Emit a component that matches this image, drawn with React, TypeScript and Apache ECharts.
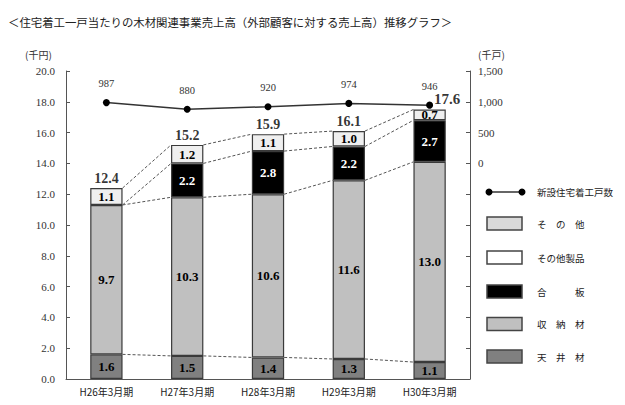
import { useEffect, useRef } from "react";
import * as echarts from "echarts";

const categories = ["H26年3月期", "H27年3月期", "H28年3月期", "H29年3月期", "H30年3月期"];
const tenjozai = [1.6, 1.5, 1.4, 1.3, 1.1];
const shunozai = [9.7, 10.3, 10.6, 11.6, 13.0];
const gohan: (number | null)[] = [null, 2.2, 2.8, 2.2, 2.7];
const sonota = [1.1, 1.2, 1.1, 1.0, 0.7];
const totals = [12.4, 15.2, 15.9, 16.1, 17.6];
const housingStarts = [987, 880, 920, 974, 946];

const TITLE = "＜住宅着工一戸当たりの木材関連事業売上高（外部顧客に対する売上高）推移グラフ＞";
const JP_FONT = '"Noto Sans CJK JP", "Noto Sans", sans-serif';
const NUM_FONT = '"Liberation Serif", serif';

const COLOR_TENJO = "#808080";
const COLOR_SHUNO = "#c0c0c0";
const COLOR_GOHAN = "#000000";
const COLOR_SONOTA = "#efefef";
const BORDER = "#3a3a3a";

function fmt(p: any) {
  const v = Array.isArray(p.value) ? p.value[1] : p.value;
  return v == null ? "" : Number(v).toFixed(1);
}

// cumulative tops of each stacked layer, used for the dashed connectors
function cumulative() {
  const l1 = tenjozai.map((v) => v);
  const l2 = l1.map((v, i) => v + shunozai[i]);
  const l3 = l2.map((v, i) => v + (gohan[i] ?? 0));
  const l4 = l3.map((v, i) => v + sonota[i]);
  return [l1, l2, l3, l4];
}

function buildConnectors() {
  const rows: number[][] = [];
  cumulative().forEach((level) => {
    for (let i = 0; i < level.length - 1; i++) {
      rows.push([i, level[i], level[i + 1]]);
    }
  });
  return rows;
}

function barSeries(name: string, data: (number | null)[], color: string, labelColor: string) {
  return {
    name,
    type: "bar",
    stack: "sales",
    barWidth: "40%",
    data,
    itemStyle: { color, borderColor: BORDER, borderWidth: 1.2 },
    label: {
      show: true,
      position: "inside",
      formatter: fmt,
      color: labelColor,
      fontFamily: NUM_FONT,
      fontWeight: "bold",
      fontSize: 13,
    },
    z: 3,
  };
}

const legendRows = [
  { text: "その他", label: "そ　の　他", fill: "#d9d9d9", y: 223.5 },
  { text: "その他製品", label: "その他製品", fill: "#ffffff", y: 257.5 },
  { text: "合板", label: "合　　　板", fill: "#000000", y: 291.5 },
  { text: "収納材", label: "収　納　材", fill: COLOR_SHUNO, y: 324 },
  { text: "天井材", label: "天　井　材", fill: COLOR_TENJO, y: 356.5 },
];

function buildGraphic() {
  const items: any[] = [
    {
      type: "text",
      x: 8,
      y: 22,
      style: { text: TITLE, font: `11.4px ${JP_FONT}`, fill: "#222", verticalAlign: "middle" },
    },
    {
      type: "text",
      x: 25,
      y: 54,
      style: { text: "(千円)", font: `10px ${JP_FONT}`, fill: "#333", verticalAlign: "middle" },
    },
    {
      type: "text",
      x: 478,
      y: 54,
      style: { text: "(千戸)", font: `10px ${JP_FONT}`, fill: "#333", verticalAlign: "middle" },
    },
    {
      type: "line",
      shape: { x1: 489, y1: 192, x2: 522, y2: 192 },
      style: { stroke: "#333", lineWidth: 1.5 },
    },
    { type: "circle", shape: { cx: 489, cy: 192, r: 3.5 }, style: { fill: "#000" } },
    { type: "circle", shape: { cx: 522, cy: 192, r: 3.5 }, style: { fill: "#000" } },
    {
      type: "text",
      x: 537,
      y: 192,
      style: { text: "新設住宅着工戸数", font: `9.5px ${JP_FONT}`, fill: "#222", verticalAlign: "middle" },
    },
  ];
  legendRows.forEach((row) => {
    items.push({
      type: "rect",
      shape: { x: 487, y: row.y - 6.5, width: 35, height: 13 },
      style: { fill: row.fill, stroke: "#444", lineWidth: 1.5 },
    });
    items.push({
      type: "text",
      x: 537,
      y: row.y,
      style: { text: row.label, font: `9.5px ${JP_FONT}`, fill: "#222", verticalAlign: "middle" },
    });
  });
  return items;
}

export default function App() {
  const ref = useRef<HTMLDivElement>(null);

  useEffect(() => {
    if (!ref.current) {
      return;
    }
    const chart = echarts.init(ref.current, null, { renderer: "svg" });

    const option: any = {
      animation: false,
      backgroundColor: "#ffffff",
      grid: { left: 66, right: 155, top: 71, bottom: 26, containLabel: false },
      xAxis: {
        type: "category",
        data: categories,
        axisLine: { lineStyle: { color: "#555", width: 1 } },
        axisTick: { show: false },
        axisLabel: { color: "#222", fontFamily: JP_FONT, fontSize: 10, margin: 7 },
      },
      yAxis: [
        {
          type: "value",
          min: 0,
          max: 20,
          interval: 2,
          axisLine: { show: true, lineStyle: { color: "#555", width: 1 } },
          axisTick: { show: true, inside: true, length: 4, lineStyle: { color: "#555" } },
          axisLabel: {
            color: "#333",
            fontFamily: NUM_FONT,
            fontSize: 11,
            margin: 11,
            formatter: (v: number) => v.toFixed(1),
          },
          splitLine: { show: false },
        },
        {
          type: "value",
          min: -3500,
          max: 1500,
          interval: 500,
          position: "right",
          axisLine: { show: true, lineStyle: { color: "#555", width: 1 } },
          axisTick: { show: true, inside: true, length: 4, lineStyle: { color: "#555" } },
          axisLabel: {
            color: "#333",
            fontFamily: NUM_FONT,
            fontSize: 11,
            margin: 8,
            formatter: (v: number) => (v < 0 ? "" : v.toLocaleString("en-US")),
          },
          splitLine: { show: false },
        },
      ],
      series: [
        {
          name: "connectors",
          type: "custom",
          silent: true,
          data: buildConnectors(),
          z: 1,
          renderItem: (_params: any, api: any) => {
            const i = api.value(0);
            const a = api.coord([i, api.value(1)]);
            const b = api.coord([i + 1, api.value(2)]);
            const half = api.size([1, 0])[0] * 0.2;
            return {
              type: "line",
              shape: { x1: a[0] + half, y1: a[1], x2: b[0] - half, y2: b[1] },
              style: { stroke: "#555", lineWidth: 1, lineDash: [3, 2] },
            };
          },
        },
        barSeries("天井材", tenjozai, COLOR_TENJO, "#000"),
        barSeries("収納材", shunozai, COLOR_SHUNO, "#000"),
        barSeries("合板", gohan, COLOR_GOHAN, "#fff"),
        barSeries("その他", sonota, COLOR_SONOTA, "#000"),
        {
          name: "合計",
          type: "scatter",
          silent: true,
          symbolSize: 1,
          itemStyle: { color: "transparent" },
          data: totals.map((v, i) =>
            i === totals.length - 1
              ? { value: v, label: { position: "right", offset: [2, -9], fontSize: 15 } }
              : v,
          ),
          label: {
            show: true,
            position: "top",
            distance: 2,
            formatter: fmt,
            color: "#000",
            fontFamily: NUM_FONT,
            fontWeight: "bold",
            fontSize: 14,
          },
          z: 4,
        },
        {
          name: "新設住宅着工戸数",
          type: "line",
          yAxisIndex: 1,
          data: housingStarts,
          symbol: "circle",
          symbolSize: 7,
          itemStyle: { color: "#000" },
          lineStyle: { color: "#333", width: 1.5 },
          label: {
            show: true,
            position: "top",
            distance: 10,
            color: "#333",
            fontFamily: NUM_FONT,
            fontSize: 10.5,
          },
          z: 5,
        },
      ],
      graphic: buildGraphic(),
    };

    chart.setOption(option);

    return () => {
      chart.dispose();
    };
  }, []);

  return (
    <div
      ref={ref}
      style={{ position: "absolute", left: 0, top: 0, width: 625, height: 405 }}
    />
  );
}
